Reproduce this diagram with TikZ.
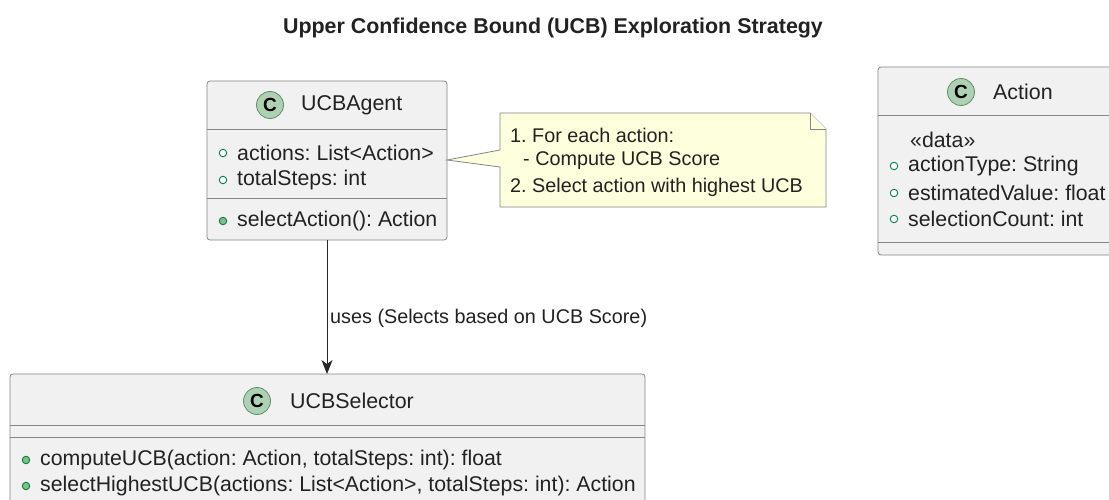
\documentclass[tikz,border=0pt]{standalone}
\usepackage{fontspec}
\setmainfont{Liberation Sans}
\usetikzlibrary{arrows.meta}
\frenchspacing

\definecolor{classfill}{HTML}{F1F1F1}
\definecolor{classline}{HTML}{858585}
\definecolor{circfill}{HTML}{ADD1B2}
\definecolor{circline}{HTML}{5E8F66}
\definecolor{markline}{HTML}{038048}
\definecolor{markfill}{HTML}{84BE84}
\definecolor{notefill}{HTML}{FEFFDD}
\definecolor{txt}{HTML}{222222}

\tikzset{
  classbox/.style={draw=classline, fill=classfill, line width=0.8pt, rounded corners=3pt},
  sepline/.style={draw=classline, line width=0.8pt},
  badge/.style={circle, draw=circline, fill=circfill, line width=0.8pt, minimum size=27pt, inner sep=0pt,
    font=\fontsize{19}{19}\selectfont\bfseries, text=black},
  classname/.style={anchor=west, inner sep=0pt, font=\fontsize{21.4}{24}\selectfont, text=txt},
  member/.style={anchor=west, inner sep=0pt, font=\fontsize{21.3}{24}\selectfont, text=txt},
  notetext/.style={anchor=west, inner sep=0pt, font=\fontsize{19.8}{24}\selectfont, text=txt},
  attrmark/.style={circle, draw=markline, fill=white, line width=0.9pt, minimum size=7.5pt, inner sep=0pt},
  methmark/.style={circle, draw=markline, fill=markfill, line width=0.9pt, minimum size=7.5pt, inner sep=0pt},
  notebox/.style={draw=classline, fill=notefill, line width=0.8pt},
  usesarrow/.style={draw=black!85, line width=1pt, -{Stealth[length=14pt,width=11pt,inset=4pt]}},
}

\begin{document}
\begin{tikzpicture}[x=1pt,y=-1pt]
\useasboundingbox (0,0) rectangle (1109,500);
\fill[white] (0,0) rectangle (1109,500);
\clip (0,0) rectangle (1109,500);

% title
\node[font=\fontsize{21.4}{24}\selectfont\bfseries, text=txt, inner sep=0pt] (title) at (553,28)
  {Upper Confidence Bound (UCB) Exploration Strategy};

% ---- UCBAgent ----
\draw[classbox] (207,81) rectangle (447,240);
\coordinate (agentS) at (327,240);
\draw[sepline] (207,129) -- (447,129);
\draw[sepline] (207,198) -- (447,198);
\node[badge] (agentC) at (270,105) {C};
\node[classname] (agentName) at (301,105) {UCBAgent};
\node[attrmark] (am1) at (223,153) {};
\node[member] (a1) at (237,153) {actions: List<Action>};
\node[attrmark] (am2) at (223,180) {};
\node[member] (a2) at (237,180) {totalSteps: int};
\node[methmark] (mm1) at (223,221) {};
\node[member] (m1) at (237,221) {selectAction(): Action};

% ---- note ----
\draw[notebox] (500,113) -- (810,113) -- (826,129) -- (826,207) -- (500,207)
  -- (500,167) -- (447,160) -- (500,150) -- cycle;
\draw[notebox] (810,113) -- (810,129) -- (826,129);
\node[notetext] (n1) at (510,135) {1. For each action:};
\node[notetext] (n2) at (523,161) {- Compute UCB Score};
\node[notetext] (n3) at (510,187) {2. Select action with highest UCB};

% ---- Action ----
\draw[classbox] (878,67) rectangle (1140,255);
\draw[sepline] (878,115) -- (1140,115);
\draw[sepline] (878,242) -- (1140,242);
\node[badge] (actC) at (961,92) {C};
\node[classname] (actName) at (993,92) {Action};
\node[member] (st) at (910,140) {«data»};
\node[attrmark] (bm1) at (894,166) {};
\node[member] (b1) at (908,166) {actionType: String};
\node[attrmark] (bm2) at (894,193) {};
\node[member] (b2) at (908,193) {estimatedValue: float};
\node[attrmark] (bm3) at (894,219) {};
\node[member] (b3) at (908,219) {selectionCount: int};

% ---- UCBSelector ----
\draw[classbox] (10,374) rectangle (645,530);
\coordinate (selN) at (327,374);
\draw[sepline] (10,425) -- (645,425);
\draw[sepline] (10,437) -- (645,437);
\node[badge] (selC) at (257,401) {C};
\node[classname] (selName) at (290,401) {UCBSelector};
\node[methmark] (sm1) at (26,460) {};
\node[member] (s1) at (40,460) {computeUCB(action: Action, totalSteps: int): float};
\node[methmark] (sm2) at (26,486) {};
\node[member] (s2) at (40,486) {selectHighestUCB(actions: List<Action>, totalSteps: int): Action};

% ---- association ----
\draw[usesarrow] (agentS) -- (selN);
\node[notetext] (uses) at (330,318) {uses (Selects based on UCB Score)};
\end{tikzpicture}
\end{document}
